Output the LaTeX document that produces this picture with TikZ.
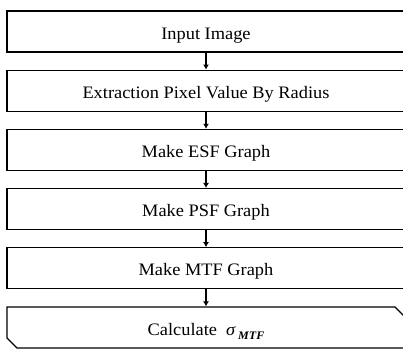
\documentclass[tikz,border=0pt]{standalone}
\usepackage{fontspec}
\setmainfont{Liberation Serif}[FakeStretch=1.05]
\usetikzlibrary{arrows.meta,shapes.misc}
\begin{document}
\begin{tikzpicture}[x=1pt,y=-1pt,
  stepbox/.style={draw=black,line width=1.3pt,rectangle,minimum width=398pt,minimum height=41pt,inner sep=0pt,
    text height=15pt,text depth=0pt,
    font=\fontsize{17.5}{20}\selectfont},
  endbox/.style={stepbox,chamfered rectangle,chamfered rectangle corners={north east,south west},
    chamfered rectangle xsep=5pt,chamfered rectangle ysep=5pt,minimum width=398pt,minimum height=41pt},
  flow/.style={-{Latex[length=5pt,width=6pt]},line width=1.3pt}]
\useasboundingbox (0,0) rectangle (403,349);
\clip (0,0) rectangle (403,349);
\node[stepbox] (n1) at (206,31.5) {Input Image};
\node[stepbox] (n2) at (206,90.7) {Extraction Pixel Value By Radius};
\node[stepbox] (n3) at (206,149.9) {Make ESF Graph};
\node[stepbox] (n4) at (206,209.1) {Make PSF Graph};
\node[stepbox] (n5) at (206,268.3) {Make MTF Graph};
\node[endbox] (n6) at (206,327.5) {Calculate\ \ {\itshape σ}\,\raisebox{-4pt}{\fontsize{11.5}{12}\selectfont\bfseries\itshape MTF}};
\draw[flow] (n1.south) -- (n2.north);
\draw[flow] (n2.south) -- (n3.north);
\draw[flow] (n3.south) -- (n4.north);
\draw[flow] (n4.south) -- (n5.north);
\draw[flow] (n5.south) -- (n6.north);
\end{tikzpicture}
\end{document}
